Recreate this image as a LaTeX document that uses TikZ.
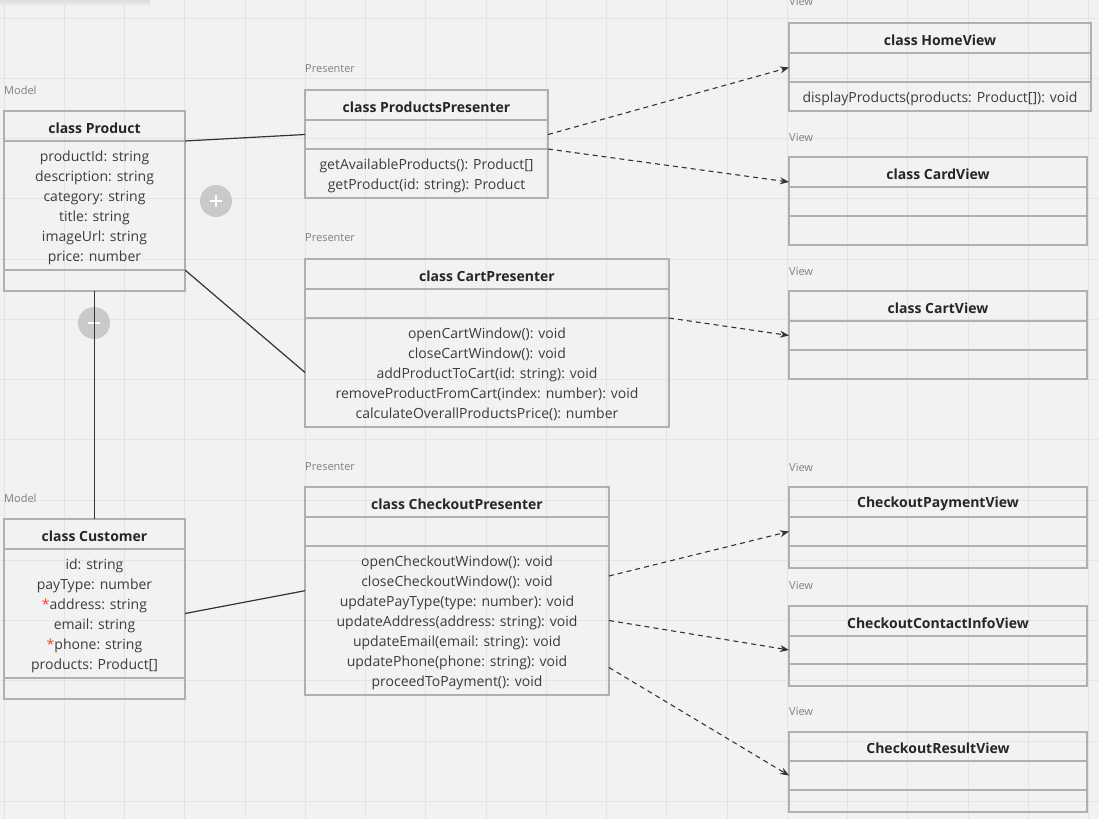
\documentclass[tikz,border=0pt]{standalone}
\usepackage{fontspec}
\setmainfont{Open Sans}
\usetikzlibrary{arrows.meta,calc}
\definecolor{bg}{HTML}{F2F2F2}
\definecolor{gridc}{HTML}{E4E4E4}
\definecolor{boxline}{HTML}{B0B0B0}
\definecolor{txt}{HTML}{3C3C3C}
\definecolor{ttl}{HTML}{262626}
\definecolor{lbl}{HTML}{7F7F7F}
\definecolor{conn}{HTML}{333333}
\definecolor{star}{HTML}{F24726}
\definecolor{circ}{HTML}{C9C9C9}
\definecolor{shadowc}{HTML}{DCDCDC}
\newcommand\usec[6]{\node[sec, minimum width=#4pt, minimum height=#5pt] (#1) at (#2,#3) {};
  \node[memtext] (#1-t) at ($(#1.center)+(0,2)$) {#6};}
\begin{document}
\begin{tikzpicture}[x=1pt,y=-1pt,
 sec/.style={draw=boxline, line width=1.2pt, inner sep=0pt, outer sep=0pt, anchor=north west},
 memtext/.style={font=\fontsize{14}{20}\selectfont, text=txt, align=center, inner sep=0pt},
 layer/.style={font=\fontsize{11}{13}\selectfont, text=lbl, anchor=west, inner sep=0pt},
 assoc/.style={draw=conn, line width=1.2pt},
 dep/.style={draw=conn, line width=1.1pt, dash pattern=on 5pt off 4pt, -{Stealth[length=9pt,width=7pt]}},
 knob/.style={circle, fill=circ, minimum size=32pt, inner sep=0pt},
]
\useasboundingbox (0,0) rectangle (1099,819);
\fill[bg] (0,0) rectangle (1099,819);
\shade[top color=shadowc, bottom color=bg] (0,0) rectangle (150,6);
\foreach \i in {0,...,18} \draw[gridc, line width=1pt] (4+60.25*\i,0) -- (4+60.25*\i,819);
\foreach \i in {0,...,13} \draw[gridc, line width=1pt] (0,18+60.25*\i) -- (1099,18+60.25*\i);

% knobs (behind lines)
\node[knob] (plus) at (216,201) {};
\draw[white, line width=2pt] ($(plus.center)+(-6,0)$) -- ($(plus.center)+(6,0)$);
\draw[white, line width=2pt] ($(plus.center)+(0,-6)$) -- ($(plus.center)+(0,6)$);
\node[knob] (minus) at (94,323) {};
\draw[white, line width=2pt] ($(minus.center)+(-6,0)$) -- ($(minus.center)+(6,0)$);

% layer labels
\node[layer] (lm1) at (4,90) {Model};
\node[layer] (lm2) at (4,498) {Model};
\node[layer] (lp1) at (305,69) {Presenter};
\node[layer] (lp2) at (305,238) {Presenter};
\node[layer] (lp3) at (305,467) {Presenter};
\node[layer] (lv1) at (789,2) {View};
\node[layer] (lv2) at (789,138) {View};
\node[layer] (lv3) at (789,272) {View};
\node[layer] (lv4) at (789,468) {View};
\node[layer] (lv5) at (789,586) {View};
\node[layer] (lv6) at (789,712) {View};

% Product
\usec{prod-h}{4}{111}{181}{30}{\bfseries\color{ttl}class Product}
\usec{prod-a}{4}{141}{181}{129}{productId: string\\description: string\\category: string\\title: string\\imageUrl: string\\price: number}
\usec{prod-o}{4}{270}{181}{21}{}
% Customer
\usec{cust-h}{4}{519}{181}{30}{\bfseries\color{ttl}class Customer}
\usec{cust-a}{4}{549}{181}{129}{id: string\\payType: number\\{\color{star}*}address: string\\email: string\\{\color{star}*}phone: string\\products: Product[]}
\usec{cust-o}{4}{678}{181}{21}{}
% ProductsPresenter
\usec{pp-h}{305}{90}{243}{30}{\bfseries\color{ttl}class ProductsPresenter}
\usec{pp-a}{305}{120}{243}{29}{}
\usec{pp-o}{305}{149}{243}{49}{getAvailableProducts(): Product[]\\getProduct(id: string): Product}
% CartPresenter
\usec{cp-h}{305}{259}{364}{30}{\bfseries\color{ttl}class CartPresenter}
\usec{cp-a}{305}{289}{364}{29}{}
\usec{cp-o}{305}{318}{364}{109}{openCartWindow(): void\\closeCartWindow(): void\\addProductToCart(id: string): void\\removeProductFromCart(index: number): void\\calculateOverallProductsPrice(): number}
% CheckoutPresenter
\usec{co-h}{305}{487}{304}{30}{\bfseries\color{ttl}class CheckoutPresenter}
\usec{co-a}{305}{517}{304}{29}{}
\usec{co-o}{305}{546}{304}{149}{openCheckoutWindow(): void\\closeCheckoutWindow(): void\\updatePayType(type: number): void\\updateAddress(address: string): void\\updateEmail(email: string): void\\updatePhone(phone: string): void\\proceedToPayment(): void}
% HomeView
\usec{hv-h}{789}{23}{302}{30}{\bfseries\color{ttl}class HomeView}
\usec{hv-a}{789}{53}{302}{29}{}
\usec{hv-o}{789}{82}{302}{29}{displayProducts(products: Product[]): void}
% CardView
\usec{cv-h}{789}{157}{298}{30}{\bfseries\color{ttl}class CardView}
\usec{cv-a}{789}{187}{298}{29}{}
\usec{cv-o}{789}{216}{298}{29}{}
% CartView
\usec{cvv-h}{789}{291}{298}{30}{\bfseries\color{ttl}class CartView}
\usec{cvv-a}{789}{321}{298}{29}{}
\usec{cvv-o}{789}{350}{298}{29}{}
% CheckoutPaymentView
\usec{pv-h}{789}{487}{298}{30}{\bfseries\color{ttl}CheckoutPaymentView}
\usec{pv-a}{789}{517}{298}{29}{}
\usec{pv-o}{789}{546}{298}{22}{}
% CheckoutContactInfoView
\usec{ci-h}{789}{606}{298}{30}{\bfseries\color{ttl}CheckoutContactInfoView}
\usec{ci-a}{789}{636}{298}{28}{}
\usec{ci-o}{789}{664}{298}{22}{}
% CheckoutResultView
\usec{rv-h}{789}{732}{298}{29}{\bfseries\color{ttl}CheckoutResultView}
\usec{rv-a}{789}{761}{298}{29}{}
\usec{rv-o}{789}{790}{298}{22}{}

% associations
\draw[assoc] (prod-h.south east) -- (pp-a.west);
\draw[assoc] (prod-o.north east) -- (cp-o.west);
\draw[assoc] (prod-o.south) -- (cust-h.north);
\draw[assoc] (cust-a.east) -- ($(co-o.north west)!0.3!(co-o.south west)$);
% dependencies
\draw[dep] (pp-a.east) -- (hv-a.west);
\draw[dep] (pp-o.north east) -- ($(cv-h.south west)+(0,-5)$);
\draw[dep] (cp-o.north east) -- (cvv-a.west);
\draw[dep] ($(co-o.north east)+(0,30)$) -- (pv-a.west);
\draw[dep] (co-o.east) -- (ci-a.west);
\draw[dep] ($(co-o.east)+(0,47)$) -- (rv-a.west);
\end{tikzpicture}
\end{document}
